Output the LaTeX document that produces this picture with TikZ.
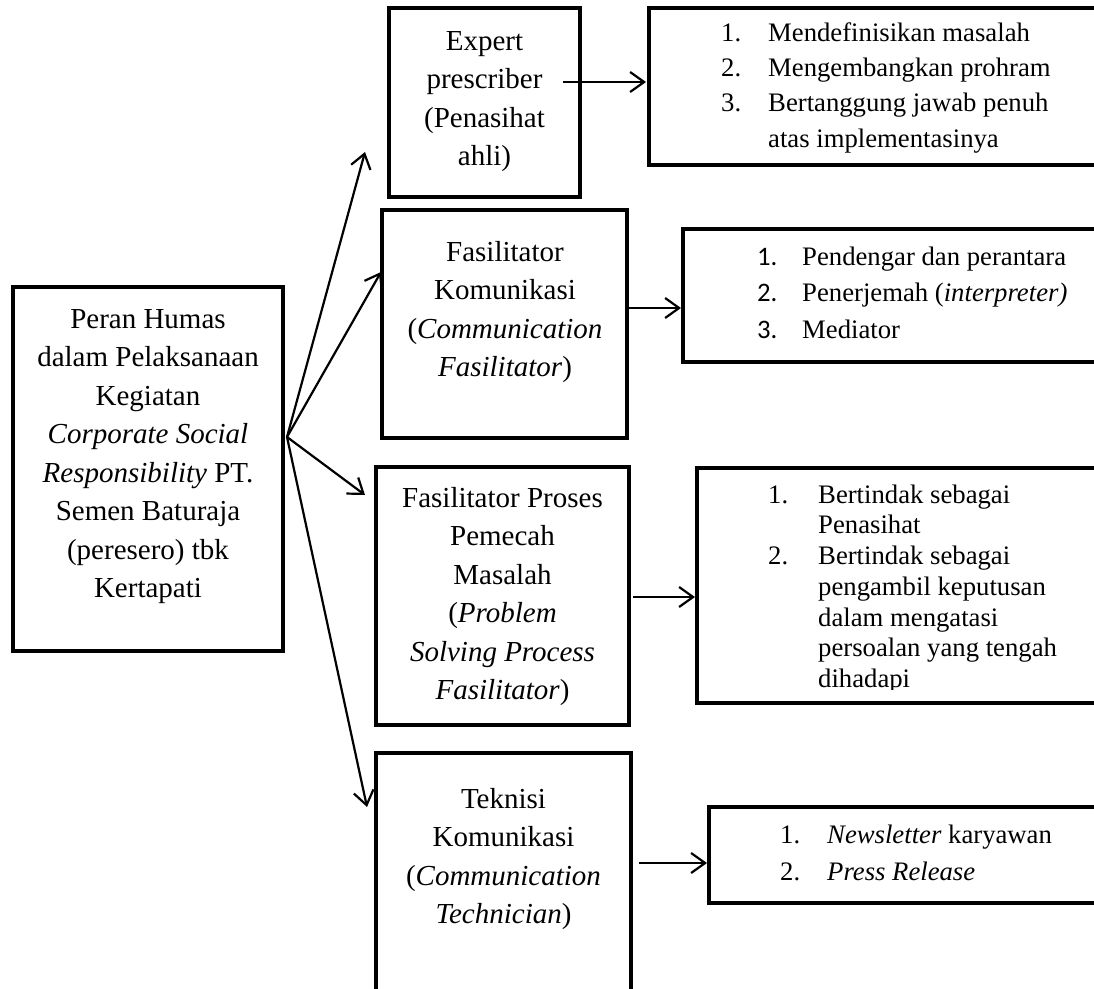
\documentclass[tikz,border=0pt]{standalone}
\usepackage{fontspec}
\setmainfont{Liberation Serif}
\newfontfamily\calib{Carlito}
\usetikzlibrary{arrows.meta}
\newcommand\fst{\rule{0pt}{22pt}}
\begin{document}
\begin{tikzpicture}[x=1pt,y=-1pt,
  box/.style={draw=black, line width=4.5pt, rectangle, inner sep=0pt, outer sep=0pt, anchor=north west},
  arr/.style={line width=2.2pt, -{Straight Barb[length=14pt,width=20pt]}},
  maintext/.style={anchor=north, inner sep=0pt, align=center, font=\fontsize{29}{38.5}\selectfont},
  listtext/.style={anchor=north west, inner sep=0pt, align=left, font=\fontsize{26.7}{#1}\selectfont},
]
\path[use as bounding box, clip] (0,0) rectangle (1094,988);

% text
\node[maintext] (tleft) at (148,306) {\fst Peran Humas\\dalam Pelaksanaan\\Kegiatan\\\textit{Corporate Social}\\\textit{Responsibility} PT.\\Semen Baturaja\\(peresero) tbk\\Kertapati};
\node[maintext] (texp) at (484.5,28) {\fst Expert\\prescriber\\(Penasihat\\ahli)};
\node[maintext] (tfas) at (505,239) {\fst Fasilitator\\Komunikasi\\(\textit{Communication}\\\textit{Fasilitator})};
\node[maintext] (tfppm) at (502.5,485) {\fst Fasilitator Proses\\Pemecah\\Masalah\\(\textit{Problem}\\\textit{Solving Process}\\\textit{Fasilitator})};
\node[maintext] (ttek) at (503.5,786) {\fst Teknisi\\Komunikasi\\(\textit{Communication}\\\textit{Technician})};

\node[listtext=35.3] (tl1) at (721,19) {\fst\makebox[47pt][l]{1.}Mendefinisikan masalah\\\makebox[47pt][l]{2.}Mengembangkan prohram\\\makebox[47pt][l]{3.}Bertanggung jawab penuh\\\hspace*{47pt}atas implementasinya};
\node[listtext=36.5] (tl2) at (757,243) {\fst\makebox[45pt][l]{\calib 1.}Pendengar dan perantara\\\makebox[45pt][l]{\calib 2.}Penerjemah (\textit{interpreter)}\\\makebox[45pt][l]{\calib 3.}Mediator};
\begin{scope}
\clip (697,468) rectangle (1094,689);
\node[listtext=30.7] (tl3) at (768,481) {\fst\makebox[50pt][l]{1.}Bertindak sebagai\\\hspace*{50pt}Penasihat\\\makebox[50pt][l]{2.}Bertindak sebagai\\\hspace*{50pt}pengambil keputusan\\\hspace*{50pt}dalam mengatasi\\\hspace*{50pt}persoalan yang tengah\\\hspace*{50pt}dihadapi};
\end{scope}
\node[listtext=37] (tl4) at (780,821) {\fst\makebox[47pt][l]{1.}\textit{Newsletter} karyawan\\\makebox[47pt][l]{2.}\textit{Press Release}};

% boxes
\node[box, minimum width=270pt, minimum height=364pt] (left) at (13,287) {};
\node[box, minimum width=191pt, minimum height=189pt] (expert) at (389,8) {};
\node[box, minimum width=245pt, minimum height=228pt] (faskom) at (382,210) {};
\node[box, minimum width=253pt, minimum height=258pt] (fppm) at (376,467) {};
\node[box, minimum width=255pt, minimum height=300pt] (teknisi) at (376,753) {};
\node[box, minimum width=500pt, minimum height=157pt] (list1) at (649,8) {};
\node[box, minimum width=500pt, minimum height=133pt] (list2) at (683,229) {};
\node[box, minimum width=500pt, minimum height=235pt] (list3) at (697,468) {};
\node[box, minimum width=500pt, minimum height=96pt] (list4) at (709,807) {};

% connectors from the main box
\coordinate (o) at (287,437);
\coordinate (t1) at (365,152);
\coordinate (t2) at (381,272);
\coordinate (t3) at (365,495);
\coordinate (t4) at (367,807);
\draw[arr] (o) -- (t1);
\draw[arr] (o) -- (t2);
\draw[arr] (o) -- (t3);
\draw[arr] (o) -- (t4);

% horizontal connectors
\coordinate (a1) at ([xshift=-17pt]expert.east);
\draw[arr, shorten >=3pt] (a1 |- 0,82) -- (list1.west |- 0,82);
\draw[arr, shorten >=2pt] (faskom.east |- 0,308) -- (list2.west |- 0,308);
\draw[arr, shorten <=4pt, shorten >=2pt] (fppm.east |- 0,597) -- (list3.west |- 0,597);
\draw[arr, shorten <=8pt, shorten >=2pt] (teknisi.east |- 0,863) -- (list4.west |- 0,863);
\end{tikzpicture}
\end{document}
